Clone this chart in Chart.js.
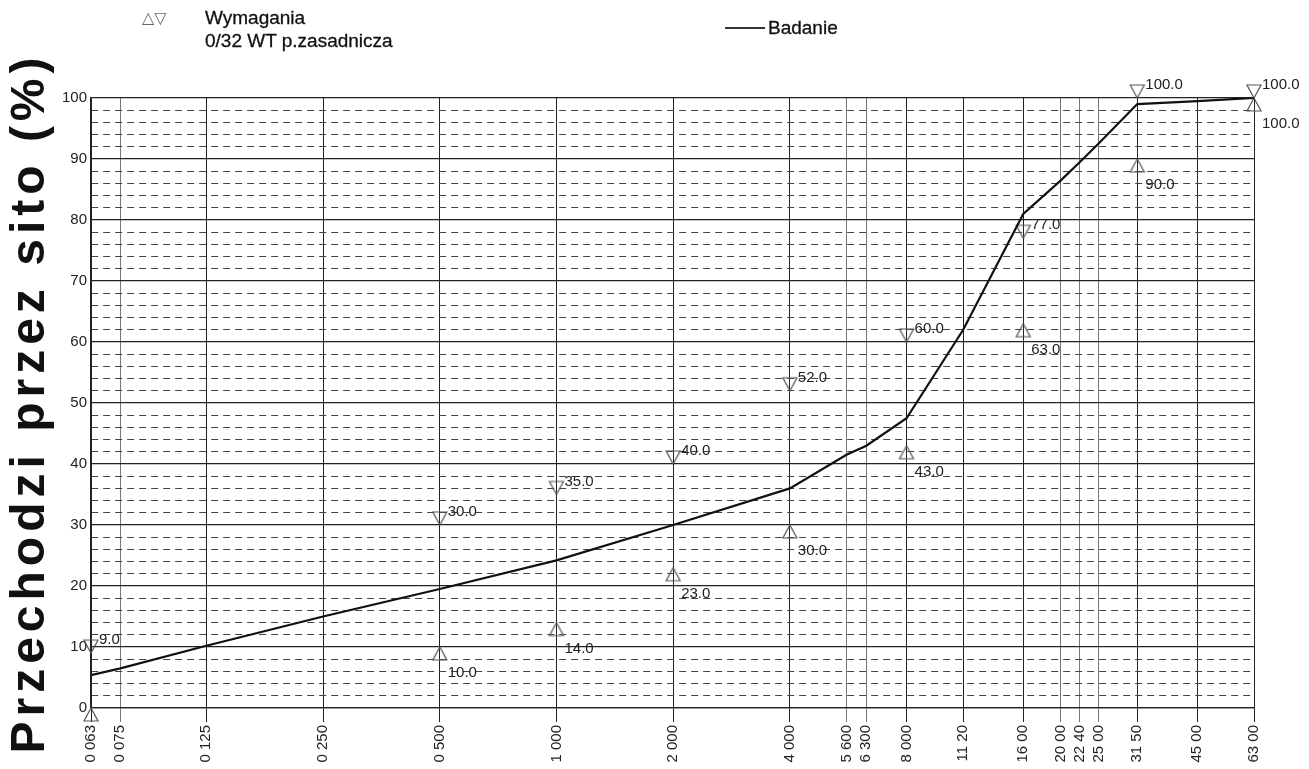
<!DOCTYPE html>
<html lang="pl">
<head>
<meta charset="utf-8">
<title>Krzywa uziarnienia</title>
<script src="https://cdn.jsdelivr.net/npm/chart.js@4.4.1/dist/chart.umd.min.js"></script>
<style>
  body { margin: 0; background: #fff; font-family: "Liberation Sans", Arial, sans-serif; }
  #wrap { position: relative; width: 1309px; height: 769px; }
  #myChart { position: absolute; left: 0; top: 0; }
  .txt { position: absolute; font-size: 19px; line-height: 22px; color: #111; white-space: nowrap; -webkit-text-stroke: 0.3px #111; }
  .sym { position: absolute; font-size: 16px; line-height: 20px; color: #666; font-family: "DejaVu Sans", sans-serif; }
  .kreska { position: absolute; height: 0; border-top: 2px solid #333; }
  #tytulY { position: absolute; width: 720px; height: 52px; line-height: 52px; text-align: center;
            font-size: 48px; font-weight: bold; letter-spacing: 5px; color: #111; white-space: nowrap;
            left: -332px; top: 377px; transform: rotate(-90deg); }
</style>
</head>
<body>
<div id="wrap">
  <canvas id="myChart" width="1309" height="769"></canvas>
  <div class="sym" style="left:142px; top:8px;">△▽</div>
  <div class="txt" style="left:205px; top:7px;">Wymagania</div>
  <div class="txt" style="left:205px; top:30px;">0/32 WT p.zasadnicza</div>
  <div class="kreska" style="left:725px; top:27px; width:40px;"></div>
  <div class="txt" style="left:768px; top:17px;">Badanie</div>
  <div id="tytulY">Przechodzi przez sito (%)</div>
</div>
<script>
// sita (mm) i etykiety osi X
const sita = [0.063, 0.075, 0.125, 0.25, 0.5, 1, 2, 4, 5.6, 6.3, 8, 11.2, 16, 20, 22.4, 25, 31.5, 45, 63];
const etykietySit = ['0 063', '0 075', '0 125', '0 250', '0 500', '1 000', '2 000', '4 000', '5 600', '6 300',
                     '8 000', '11 20', '16 00', '20 00', '22 40', '25 00', '31 50', '45 00', '63 00'];
const sitaGlowne = [0.063, 0.125, 0.25, 0.5, 1, 2, 4, 8, 11.2, 16, 31.5, 45, 63];

// krzywa badania
const badanie = [5.4, 6.5, 10.2, 15.0, 19.5, 24.2, 30.0, 36.0, 41.5, 43.0, 47.5, 62.0, 81.0, 86.5, 89.5, 92.5, 99.0, 99.5, 100];

// wymagania 0/32 WT
const sitaWymagan = [0.063, 0.5, 1, 2, 4, 8, 16, 31.5, 63];
const gorna = [9, 30, 35, 40, 52, 60, 77, 100, 100];
const dolna = [0, 10, 14, 23, 30, 43, 63, 90, 100];

function trojkat(wDol) {
    const c = document.createElement('canvas');
    c.width = 30;
    c.height = 30;
    const ctx = c.getContext('2d');
    ctx.strokeStyle = '#555';
    ctx.lineWidth = 1.2;
    ctx.beginPath();
    if (wDol) {
        // ▽ - czubek w punkcie, trojkat nad nim
        ctx.moveTo(15, 15); ctx.lineTo(8, 2); ctx.lineTo(22, 2);
    } else {
        // △ - czubek w punkcie, trojkat pod nim
        ctx.moveTo(15, 15); ctx.lineTo(8, 28); ctx.lineTo(22, 28);
    }
    ctx.closePath();
    ctx.stroke();
    return c;
}

const etykiety = {
    id: 'etykiety',
    afterDatasetsDraw(chart) {
        const ctx = chart.ctx;
        ctx.save();
        ctx.font = '15px "Liberation Sans", Arial, sans-serif';
        ctx.fillStyle = '#222';
        ctx.textBaseline = 'middle';
        [1, 2].forEach(i => {
            const meta = chart.getDatasetMeta(i);
            const ds = chart.data.datasets[i];
            meta.data.forEach((pt, j) => {
                const v = ds.data[j].y;
                if (v === 0) return;
                const dy = i === 1 ? -13 : 26;
                ctx.fillText(v.toFixed(1), pt.x + 8, pt.y + dy);
            });
        });
        ctx.restore();
    }
};

const data = {
    datasets: [{
        label: 'Badanie',
        data: sita.map((s, i) => ({x: s, y: badanie[i]})),
        borderColor: '#111',
        borderWidth: 2.2,
        pointRadius: 0,
        tension: 0
    }, {
        label: 'Wymagania gorne',
        data: sitaWymagan.map((s, i) => ({x: s, y: gorna[i]})),
        showLine: false,
        pointStyle: trojkat(true),
        pointRadius: 7,
        clip: false
    }, {
        label: 'Wymagania dolne',
        data: sitaWymagan.map((s, i) => ({x: s, y: dolna[i]})),
        showLine: false,
        pointStyle: trojkat(false),
        pointRadius: 7,
        clip: false
    }]
};

const config = {
    type: 'line',
    data: data,
    plugins: [etykiety],
    options: {
        responsive: false,
        animation: false,
        events: [],
        layout: { padding: { left: 0, top: 98, right: 55, bottom: 0 } },
        plugins: { legend: { display: false }, tooltip: { enabled: false } },
        scales: {
            x: {
                type: 'logarithmic',
                min: 0.063,
                max: 63,
                bounds: 'data',
                afterBuildTicks: s => { s.ticks = sita.map(v => ({value: v})); },
                afterFit: s => { s.height = 61; },
                ticks: {
                    autoSkip: false,
                    minRotation: 90,
                    maxRotation: 90,
                    padding: 3,
                    color: '#222',
                    font: { size: 15, family: '"Liberation Sans", Arial, sans-serif' },
                    callback: (v, i) => etykietySit[i]
                },
                grid: {
                    color: c => (c.tick && sitaGlowne.includes(c.tick.value)) ? '#222' : '#777',
                    lineWidth: 1,
                    tickLength: 14
                },
                border: { display: true, color: '#222', width: 1.2 }
            },
            y: {
                min: 0,
                max: 100,
                afterFit: s => { s.width = 91; },
                ticks: {
                    stepSize: 2,
                    maxTicksLimit: 60,
                    autoSkip: false,
                    padding: 4,
                    color: '#222',
                    font: { size: 15, family: '"Liberation Sans", Arial, sans-serif' },
                    callback: v => (v % 10 === 0 ? v : '')
                },
                grid: {
                    drawTicks: false,
                    color: c => (c.tick && c.tick.value % 10 === 0) ? '#222' : '#444',
                    lineWidth: c => (c.tick && c.tick.value % 10 === 0) ? 1.2 : 1
                },
                border: {
                    display: true,
                    color: '#222',
                    width: 1.2,
                    dash: c => (c.tick && c.tick.value % 10 !== 0) ? [7, 5] : []
                }
            }
        }
    }
};

const myChart = new Chart(document.getElementById('myChart'), config);
</script>
</body>
</html>
